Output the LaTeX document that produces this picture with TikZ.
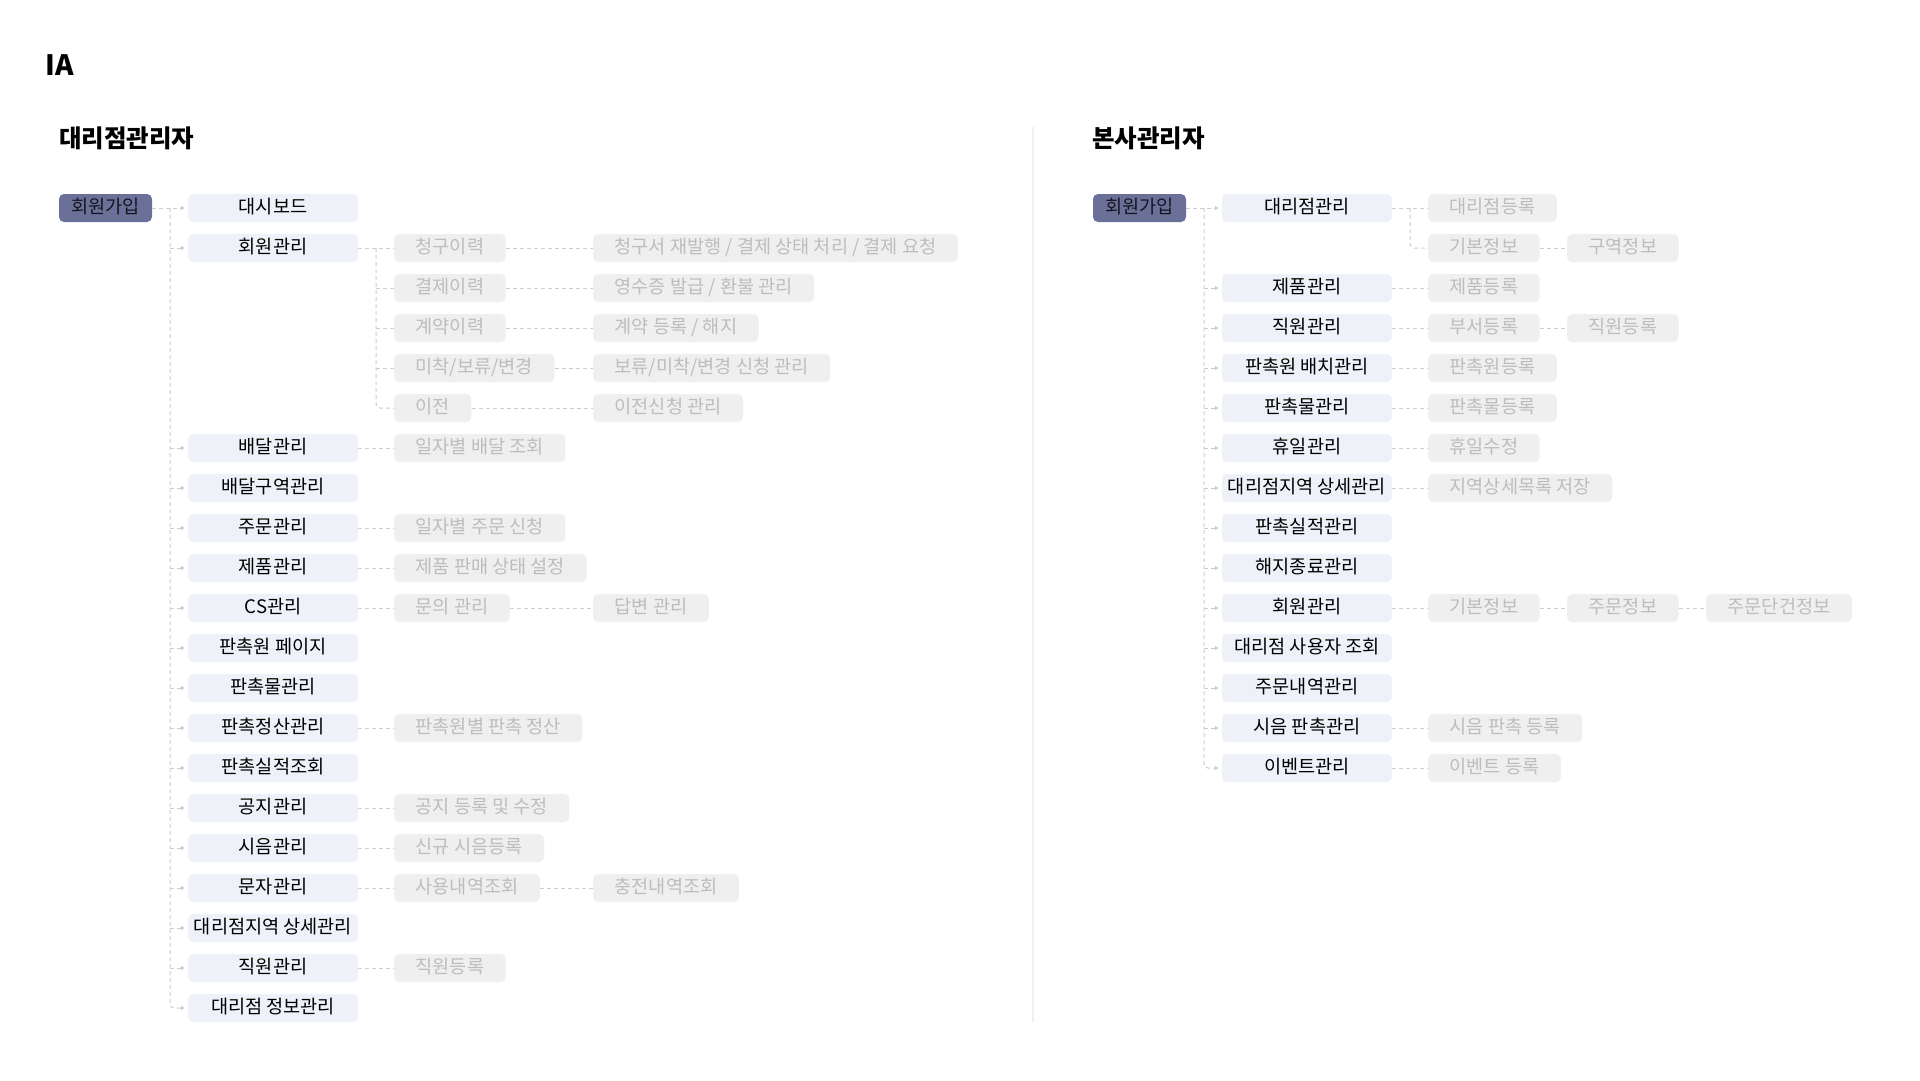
\documentclass[tikz,border=0pt]{standalone}
\usepackage{fontspec}
\setmainfont{Noto Sans CJK KR}
\usetikzlibrary{arrows.meta}
\definecolor{rootfill}{HTML}{6B7099}
\definecolor{roottext}{HTML}{15151F}
\definecolor{lonefill}{HTML}{EEF1F8}
\definecolor{gfill}{HTML}{EFEFEF}
\definecolor{gtext}{HTML}{BDBDBD}
\definecolor{linec}{HTML}{CDCDCD}
\definecolor{divc}{HTML}{EDF0F7}
\begin{document}
\begin{tikzpicture}[x=1pt,y=-1pt,
  base/.style={rectangle, rounded corners=5pt, minimum height=28pt, inner ysep=0pt,
    text height=1.12em, text depth=0em, font=\fontsize{18.6}{21}\selectfont},
  rootbox/.style={base, fill=rootfill, text=roottext, minimum width=93pt, inner xsep=0pt},
  lonebox/.style={base, fill=lonefill, text=black, minimum width=170pt, inner xsep=0pt},
  gbox/.style={base, fill=gfill, text=gtext, inner xsep=21.5pt, anchor=west},
  link/.style={draw=linec, line width=1pt, dash pattern=on 4pt off 3pt},
  arr/.style={link, shorten >=3pt, -{Triangle[length=4pt,width=4pt,fill=linec]}},
  ttl/.style={anchor=base west, inner sep=0pt, font=\bfseries\fontsize{24.5}{28}\selectfont},
  divider/.style={draw=divc, line width=2pt}
]
\useasboundingbox[fill=white] (0,0) rectangle (1920,1080);

% titles
\node[anchor=base west, inner sep=0pt, font=\bfseries\fontsize{28}{32}\selectfont] (ia) at (45,75) {IA};
\node[ttl] (tleft) at (59,147) {대리점관리자};
\node[ttl] (tright) at (1092,147) {본사관리자};

% divider
\coordinate (dtop) at (1033,127);
\coordinate (dbot) at (1033,1022);
\draw[divider] (dtop) -- (dbot);

% ================= LEFT =================
\node[rootbox] (lroot) at (105.5,208) {회원가입};
\foreach \i/\t in {0/대시보드,1/회원관리,6/배달관리,7/배달구역관리,8/주문관리,9/제품관리,
  10/CS관리,11/판촉원 페이지,12/판촉물관리,13/판촉정산관리,14/판촉실적조회,15/공지관리,
  16/시음관리,17/문자관리,18/대리점지역 상세관리,19/직원관리,20/대리점 정보관리}
  \node[lonebox] (L\i) at (273,208+40*\i) {\t};

\foreach \i/\t in {1/청구이력,2/결제이력,3/계약이력,4/{미착/보류/변경},5/이전,
  6/일자별 배달 조회,8/일자별 주문 신청,9/제품 판매 상태 설정,10/문의 관리,
  13/판촉원별 판촉 정산,15/공지 등록 및 수정,16/신규 시음등록,17/사용내역조회,19/직원등록}
  \node[gbox] (A\i) at (394,208+40*\i) {\t};

\foreach \i/\t in {1/{청구서 재발행 / 결제 상태 처리 / 결제 요청},2/{영수증 발급 / 환불 관리},
  3/{계약 등록 / 해지},4/{보류/미착/변경 신청 관리},5/이전신청 관리,10/답변 관리,17/충전내역조회}
  \node[gbox] (B\i) at (593,208+40*\i) {\t};

% left connectors
\coordinate (LT) at (170,208);
\draw[arr] (lroot.east) -- (L0.west);
\draw[arr, rounded corners=4pt] (LT) |- (L20.west);
\foreach \i in {1,6,7,8,9,10,11,12,13,14,15,16,17,18,19}
  \draw[arr] (LT |- L\i.west) -- (L\i.west);

\coordinate (LS) at (376,248);
\draw[link] (L1.east) -- (A1.west);
\draw[link, rounded corners=4pt] (LS) |- (A5.west);
\foreach \i in {2,3,4}
  \draw[link] (LS |- A\i.west) -- (A\i.west);
\foreach \i in {6,8,9,10,13,15,16,17,19}
  \draw[link] (L\i.east) -- (A\i.west);
\foreach \i in {1,2,3,4,5,10,17}
  \draw[link] (A\i.east) -- (B\i.west);

% ================= RIGHT =================
\node[rootbox] (rroot) at (1139.5,208) {회원가입};
\foreach \i/\t in {0/대리점관리,2/제품관리,3/직원관리,4/판촉원 배치관리,5/판촉물관리,
  6/휴일관리,7/대리점지역 상세관리,8/판촉실적관리,9/해지종료관리,10/회원관리,
  11/대리점 사용자 조회,12/주문내역관리,13/시음 판촉관리,14/이벤트관리}
  \node[lonebox] (R\i) at (1307,208+40*\i) {\t};

\foreach \i/\t in {0/대리점등록,1/기본정보,2/제품등록,3/부서등록,4/판촉원등록,5/판촉물등록,
  6/휴일수정,7/지역상세목록 저장,10/기본정보,13/시음 판촉 등록,14/이벤트 등록}
  \node[gbox] (P\i) at (1428,208+40*\i) {\t};

\foreach \i/\t in {1/구역정보,3/직원등록,10/주문정보}
  \node[gbox] (Q\i) at (1567,208+40*\i) {\t};
\node[gbox] (Z10) at (1706,608) {주문단건정보};

% right connectors
\coordinate (RT) at (1204,208);
\draw[arr] (rroot.east) -- (R0.west);
\draw[arr, rounded corners=4pt] (RT) |- (R14.west);
\foreach \i in {2,3,4,5,6,7,8,9,10,11,12,13}
  \draw[arr] (RT |- R\i.west) -- (R\i.west);

\coordinate (RS) at (1410,208);
\draw[link] (R0.east) -- (P0.west);
\draw[link, rounded corners=4pt] (RS) |- (P1.west);
\foreach \i in {2,3,4,5,6,7,10,13,14}
  \draw[link] (R\i.east) -- (P\i.west);
\foreach \i in {1,3,10}
  \draw[link] (P\i.east) -- (Q\i.west);
\draw[link] (Q10.east) -- (Z10.west);
\end{tikzpicture}
\end{document}
